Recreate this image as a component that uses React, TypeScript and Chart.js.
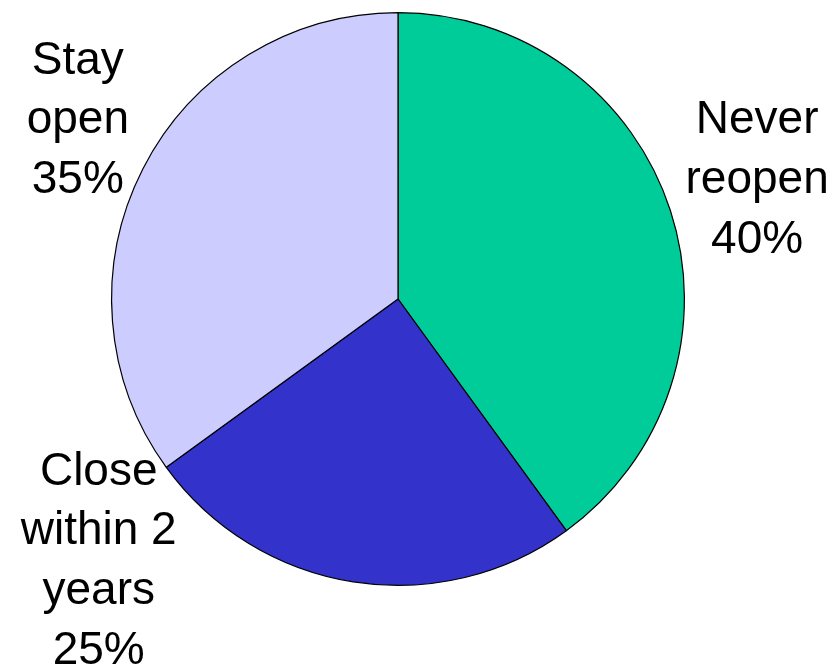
import React, { useEffect, useRef } from "react";
import { Chart, registerables } from "chart.js";

Chart.register(...registerables);

const categories = ["Never reopen", "Close within 2 years", "Stay open"];
const values = [40, 25, 35];
const labelLines = [
  ["Never", "reopen", "40%"],
  ["Close", "within 2", "years", "25%"],
  ["Stay", "open", "35%"],
];
const colors = ["#00CC99", "#3333CC", "#CCCCFF"];

// label anchor offsets from pie centre (fraction of radius): x centre, first baseline
const labelOffsets = [
  [1.254, -0.578],
  [-1.045, 0.648],
  [-1.118, -0.787],
];

const labelPlugin = {
  id: "pieLabels",
  afterDraw(chart: any) {
    const meta = chart.getDatasetMeta(0);
    const ctx = chart.ctx;
    ctx.save();
    ctx.font = "46px 'Liberation Sans', Arial, sans-serif";
    ctx.fillStyle = "#000000";
    ctx.textAlign = "center";
    ctx.textBaseline = "alphabetic";
    meta.data.forEach((arc: any, i: number) => {
      const r = arc.outerRadius;
      const x = arc.x + labelOffsets[i][0] * r;
      let y = arc.y + labelOffsets[i][1] * r;
      const lh = r * 0.209;
      labelLines[i].forEach((line) => {
        ctx.fillText(line, x, y);
        y += lh;
      });
    });
    ctx.restore();
  },
};

export default function App() {
  const ref = useRef<HTMLCanvasElement>(null);
  useEffect(() => {
    if (!ref.current) return;
    const chart = new Chart(ref.current, {
      type: "pie",
      data: {
        labels: categories,
        datasets: [
          {
            data: values,
            backgroundColor: colors,
            borderColor: "#000000",
            borderWidth: 1.2,
          },
        ],
      },
      options: {
        responsive: false,
        animation: false,
        layout: { padding: { left: 111, right: 151, top: 12, bottom: 83 } },
        plugins: {
          legend: { display: false },
          tooltip: { enabled: false },
        },
      },
      plugins: [labelPlugin],
    });
    return () => chart.destroy();
  }, []);
  return (
    <div style={{ position: "fixed", left: 0, top: 0, width: 836, height: 669, background: "#fff" }}>
      <canvas ref={ref} width={836} height={669} />
    </div>
  );
}
